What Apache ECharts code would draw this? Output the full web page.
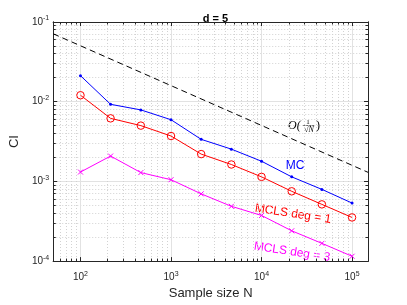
<!DOCTYPE html>
<html>
<head>
<meta charset="utf-8">
<script src="https://cdn.jsdelivr.net/npm/echarts@6/dist/echarts.min.js"></script>
<style>html,body{margin:0;padding:0;background:#fff}#c{width:407px;height:305px}</style>
</head>
<body>
<div id="c"></div>
<script>
// ---- data ----
const sampleSizes = [100, 215, 464, 1000, 2154, 4642, 10000, 21544, 46416, 100000];
const mcCI   = [0.0212, 0.00927, 0.00789, 0.00594, 0.00337, 0.00254, 0.00179, 0.00114, 0.000794, 0.000535];
const mcls1CI = [0.01205, 0.00618, 0.00501, 0.00371, 0.00220, 0.00163, 0.00114, 0.000751, 0.000515, 0.000353];
const mcls3CI = [0.00131, 0.00208, 0.00129, 0.00105, 0.000698, 0.000487, 0.000374, 0.000240, 0.000167, 0.000115];
const refN  = [50, 150000];
const refCI = [0.0711, 0.00130];
const xMajorTicks = [100, 1000, 10000, 100000];
const xMinorTicks = [60,70,80,90, 200,300,400,500,600,700,800,900, 2000,3000,4000,5000,6000,7000,8000,9000, 20000,30000,40000,50000,60000,70000,80000,90000];
const yMajorTicks = [0.0001, 0.001, 0.01, 0.1];
const yMinorTicks = [0.0002,0.0003,0.0004,0.0005,0.0006,0.0007,0.0008,0.0009, 0.002,0.003,0.004,0.005,0.006,0.007,0.008,0.009, 0.02,0.03,0.04,0.05,0.06,0.07,0.08,0.09];
const xRange = [50, 150000];
const yRange = [0.0000999999, 0.1000001];

const AX = '#262626';
const FONT = 'Liberation Sans';
const zip = (a, b) => a.map((v, i) => [v, b[i]]);
const supRich = {
  b: {fontSize: 10, color: AX, fontFamily: FONT, lineHeight: 14},
  s: {fontSize: 7, color: AX, fontFamily: FONT, verticalAlign: 'top'}
};
const supFmt = v => '{b|10}{s|' + Math.round(Math.log10(v)) + '}';

function mkAxis(range, pos, ticks, opts) {
  return {
    type: 'log', logBase: 10, min: range[0], max: range[1], position: pos,
    axisLine: {show: true, onZero: false, lineStyle: {color: AX, width: 1}},
    axisTick: {show: true, inside: true, length: opts.len, customValues: ticks, lineStyle: {color: AX, width: 1}},
    axisLabel: opts.labels ? {show: true, customValues: ticks, formatter: supFmt, rich: supRich, margin: opts.margin} : {show: false},
    splitLine: opts.split ? {show: true, lineStyle: opts.split} : {show: false},
    minorTick: {show: false}, minorSplitLine: {show: false}
  };
}
const majorSplit = {color: '#e2e2e2', width: 1, type: 'solid'};
const minorSplit = {color: '#d2d2d2', width: 1, type: [1, 2]};

const xAxes = [
  mkAxis(xRange, 'bottom', xMajorTicks, {len: 4, labels: true, margin: 9, split: majorSplit}),
  mkAxis(xRange, 'bottom', xMinorTicks, {len: 2.5, split: minorSplit}),
  mkAxis(xRange, 'top', xMajorTicks, {len: 4}),
  mkAxis(xRange, 'top', xMinorTicks, {len: 2.5})
];
const yAxes = [
  mkAxis(yRange, 'left', yMajorTicks, {len: 4, labels: true, margin: 4, split: majorSplit}),
  mkAxis(yRange, 'left', yMinorTicks, {len: 2.5, split: minorSplit}),
  mkAxis(yRange, 'right', yMajorTicks, {len: 4}),
  mkAxis(yRange, 'right', yMinorTicks, {len: 2.5})
];
xAxes[0].name = 'Sample size N';
xAxes[0].nameLocation = 'middle';
xAxes[0].nameGap = 21;
xAxes[0].nameTextStyle = {fontSize: 13, color: AX, fontFamily: FONT};
yAxes[0].name = 'CI';
yAxes[0].nameLocation = 'middle';
yAxes[0].nameGap = 26;
yAxes[0].nameTextStyle = {fontSize: 13, color: AX, fontFamily: FONT};

const chart = echarts.init(document.getElementById('c'), null, {renderer: 'canvas'});
chart.setOption({
  animation: false,
  backgroundColor: '#fff',
  title: {text: 'd = 5', left: 210.5, textAlign: 'center', top: 8,
    textStyle: {fontSize: 11, fontWeight: 'bold', color: '#000', fontFamily: FONT}},
  grid: {left: 53, top: 22, right: 39, bottom: 39, containLabel: false},
  xAxis: xAxes,
  yAxis: yAxes,
  series: [
    {type: 'line', name: 'ref', data: zip(refN, refCI), showSymbol: false, symbol: 'none',
      lineStyle: {color: '#000', width: 1, type: [6, 4]}, z: 3},
    {type: 'line', name: 'MC', data: zip(sampleSizes, mcCI), symbol: 'circle', symbolSize: 3,
      lineStyle: {color: '#0000ff', width: 1}, itemStyle: {color: '#0000ff'}, z: 4},
    {type: 'line', name: 'MCLS1', data: zip(sampleSizes, mcls1CI), symbol: 'circle', symbolSize: 7.5,
      lineStyle: {color: '#ff0000', width: 1}, itemStyle: {color: 'transparent', borderColor: '#ff0000', borderWidth: 1}, z: 4},
    {type: 'line', name: 'MCLS3', data: zip(sampleSizes, mcls3CI), symbol: 'path://M0,0L10,10M10,0L0,10', symbolSize: 5,
      lineStyle: {color: '#ff00ff', width: 1}, itemStyle: {color: 'transparent', borderColor: '#ff00ff', borderWidth: 1}, z: 4}
  ],
  graphic: [
    {type: 'text', x: 295, y: 165.5, style: {text: 'MC', fill: '#0000ff', font: '12px "Liberation Sans"', align: 'center', verticalAlign: 'middle'}},
    {type: 'text', x: 293, y: 214, rotation: -0.15, style: {text: 'MCLS deg = 1', fill: '#ff0000', font: '12px "Liberation Sans"', align: 'center', verticalAlign: 'middle'}},
    {type: 'text', x: 292, y: 252, rotation: -0.15, style: {text: 'MCLS deg = 3', fill: '#ff00ff', font: '12px "Liberation Sans"', align: 'center', verticalAlign: 'middle'}},
    {type: 'text', x: 288, y: 126, style: {text: 'O(', fill: '#000', font: 'italic 12px "Liberation Serif"', align: 'left', verticalAlign: 'middle'}},
    {type: 'text', x: 308, y: 122, style: {text: '1', fill: '#000', font: '7px "Liberation Serif"', align: 'center', verticalAlign: 'middle'}},
    {type: 'line', shape: {x1: 303, y1: 125.5, x2: 314, y2: 125.5}, style: {stroke: '#000', lineWidth: 0.6}},
    {type: 'text', x: 309, y: 129.5, style: {text: '√N', fill: '#000', font: 'italic 8px "Liberation Serif"', align: 'center', verticalAlign: 'middle'}},
    {type: 'text', x: 316, y: 126, style: {text: ')', fill: '#000', font: '12px "Liberation Serif"', align: 'left', verticalAlign: 'middle'}}
  ]
});
</script>
</body>
</html>
